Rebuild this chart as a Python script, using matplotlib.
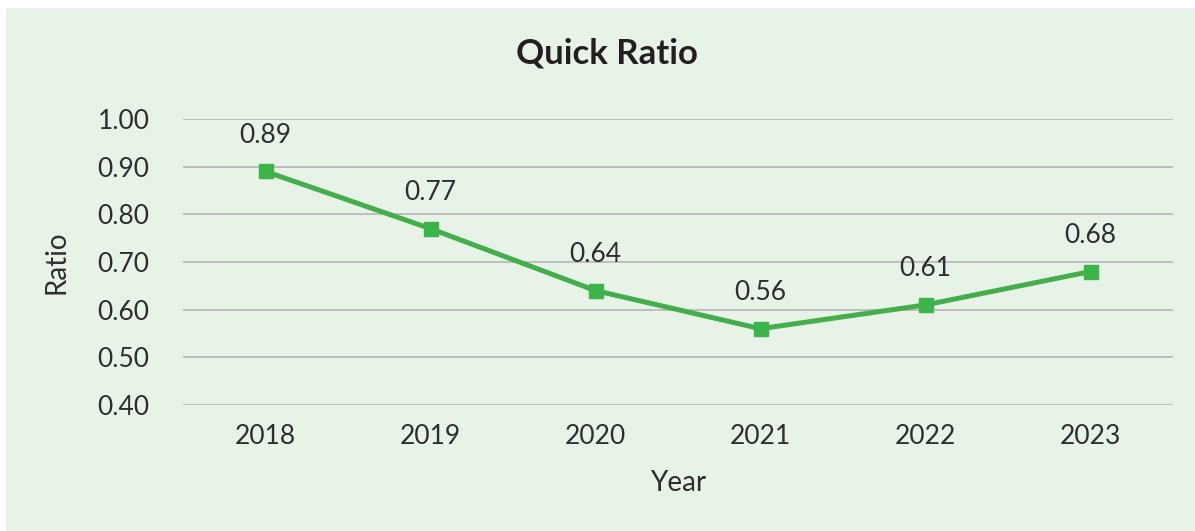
import matplotlib
matplotlib.use("Agg")
import matplotlib.pyplot as plt
from matplotlib.patches import Rectangle

# Quick ratio by year
years = ["2018", "2019", "2020", "2021", "2022", "2023"]
quick_ratio = [0.89, 0.77, 0.64, 0.56, 0.61, 0.68]
y_ticks = [0.40, 0.50, 0.60, 0.70, 0.80, 0.90, 1.00]

plt.rcParams["font.family"] = ["Lato", "DejaVu Sans"]

bg = "#E8F3E7"
text_col = "#2E2E2E"

fig = plt.figure(figsize=(11.95, 5.31), dpi=100)
fig.patch.set_facecolor("white")
# panel background, leaving a thin white margin at top and left
fig.patches.append(Rectangle((6 / 1195, 0), 1 - 6 / 1195, 1 - 8 / 531,
                             transform=fig.transFigure, facecolor=bg,
                             edgecolor="none", zorder=-1))

ax = fig.add_axes([183 / 1195, 1 - 405 / 531, (1173 - 183) / 1195, (405 - 119) / 531])
ax.set_facecolor("none")
ax.set_zorder(1)

x = list(range(len(years)))
ax.plot(x, quick_ratio, color="#45AD4C", linewidth=3.6, marker="s",
        markersize=9.5, markerfacecolor="#3BB54A", markeredgecolor="#3BB54A",
        zorder=3, clip_on=False)

for xi, v in zip(x, quick_ratio):
    ax.annotate(f"{v:.2f}", (xi, v), xytext=(0, 26), textcoords="offset points",
                ha="center", va="center", fontsize=19, color=text_col)

ax.set_xlim(-0.5, len(years) - 0.5)
ax.set_ylim(0.40, 1.00)
ax.set_xticks(x)
ax.set_xticklabels(years)
ax.set_yticks(y_ticks)
ax.set_yticklabels([f"{t:.2f}" for t in y_ticks])

ax.grid(axis="y", color="#BDBDBD", linewidth=1.4)
ax.set_axisbelow(True)
for s in ax.spines.values():
    s.set_visible(False)
ax.tick_params(axis="both", length=0, labelsize=19, labelcolor=text_col)
ax.tick_params(axis="y", pad=24)
ax.tick_params(axis="x", pad=14)

ax.set_xlabel("Year", fontsize=20, color=text_col, labelpad=15)
ax.set_ylabel("Ratio", fontsize=20, color=text_col, labelpad=20)

fig.text(607 / 1195, 1 - 53 / 531, "Quick Ratio", ha="center", va="center",
         fontsize=25, fontweight="bold", color="#231F20")

fig.savefig("out.png", dpi=100, facecolor=fig.get_facecolor())
